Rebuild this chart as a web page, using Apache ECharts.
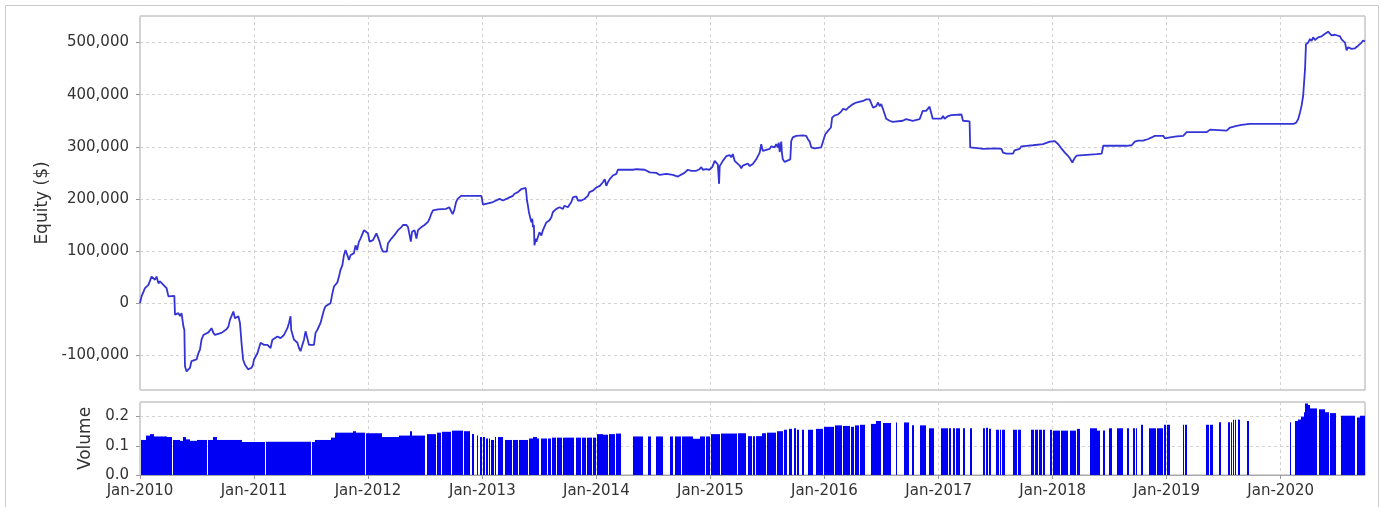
<!DOCTYPE html>
<html><head><meta charset="utf-8">
<script src="https://cdn.jsdelivr.net/npm/echarts@6/dist/echarts.min.js"></script>
<style>html,body{margin:0;padding:0;background:#fff}#chart{width:1382px;height:507px}</style>
</head><body><div id="chart"></div>
<script>
// Equity curve: [date, equity $]
const equity = [
['2010-01-01',0],['2010-01-06',13000],['2010-01-17',29000],['2010-01-28',35000],['2010-02-07',51000],['2010-02-13',54000],
['2010-02-18',45000],['2010-02-23',51000],['2010-03-01',38000],['2010-03-06',42000],['2010-03-17',35000],['2010-03-22',38000],
['2010-03-27',29000],['2010-04-02',13000],['2010-04-21',14000],['2010-04-23',-22000],['2010-05-04',-19000],['2010-05-09',-25000],
['2010-05-14',-19000],['2010-05-20',-45000],['2010-05-23',-51000],['2010-05-25',-121000],['2010-05-30',-131000],['2010-06-05',-128000],
['2010-06-10',-124000],['2010-06-15',-111000],['2010-06-21',-114000],['2010-07-01',-108000],['2010-07-07',-96000],['2010-07-12',-89000],
['2010-07-17',-70000],['2010-07-23',-61000],['2010-08-08',-56000],['2010-08-18',-48000],['2010-08-24',-57000],['2010-08-29',-61000],
['2010-09-19',-57000],['2010-10-05',-50000],['2010-10-11',-45000],['2010-10-16',-32000],['2010-10-21',-25000],['2010-10-27',-16000],
['2010-11-01',-29000],['2010-11-06',-32000],['2010-11-12',-25000],['2010-11-17',-38000],['2010-11-20',-35000],['2010-11-22',-76000],
['2010-11-27',-108000],['2010-12-03',-118000],['2010-12-13',-127000],['2010-12-24',-124000],['2010-12-29',-118000],['2011-01-01',-108000],
['2011-01-12',-96000],['2011-01-22',-76000],['2011-02-02',-80000],['2011-02-13',-80000],['2011-02-23',-86000],['2011-03-01',-70000],
['2011-03-06',-67000],['2011-03-17',-64000],['2011-03-27',-67000],['2011-04-07',-61000],['2011-04-18',-48000],['2011-04-23',-38000],
['2011-04-28',-25000],['2011-04-30',-51000],['2011-05-09',-70000],['2011-05-20',-76000],['2011-05-25',-86000],['2011-05-30',-92000],
['2011-06-05',-80000],['2011-06-10',-70000],['2011-06-15',-54000],['2011-06-21',-51000],['2011-06-26',-80000],['2011-07-12',-80000],
['2011-07-17',-57000],['2011-07-23',-51000],['2011-08-02',-38000],['2011-08-13',-13000],['2011-08-18',-6000],['2011-09-03',0],
['2011-09-08',16000],['2011-09-14',32000],['2011-09-19',35000],['2011-09-25',40000],['2011-09-30',51000],['2011-10-05',64000],
['2011-10-11',73000],['2011-10-16',92000],['2011-10-21',102000],['2011-10-27',105000],['2011-11-01',83000],['2011-11-06',92000],
['2011-11-12',89000],['2011-11-17',96000],['2011-11-22',111000],['2011-11-27',102000],['2011-12-03',118000],['2011-12-08',124000],
['2011-12-19',140000],['2011-12-24',143000],['2012-01-01',134000],['2012-01-06',118000],['2012-01-12',115000],['2012-01-17',121000],
['2012-01-22',127000],['2012-01-28',134000],['2012-02-02',131000],['2012-02-07',118000],['2012-02-13',105000],['2012-02-18',99000],
['2012-02-23',102000],['2012-03-01',99000],['2012-03-05',115000],['2012-03-10',118000],['2012-03-16',124000],['2012-03-26',131000],
['2012-04-06',140000],['2012-04-17',146000],['2012-04-22',150000],['2012-05-03',150000],['2012-05-08',146000],['2012-05-13',131000],
['2012-05-17',118000],['2012-05-21',137000],['2012-05-29',140000],['2012-06-04',124000],['2012-06-09',140000],['2012-06-20',146000],
['2012-06-30',150000],['2012-07-06',150000],['2012-07-11',156000],['2012-07-16',162000],['2012-07-22',172000],['2012-07-27',178000],
['2012-08-12',180000],['2012-09-07',181000],['2012-09-17',184000],['2012-09-23',187000],['2012-09-28',171000],['2012-10-03',178000],
['2012-10-09',194000],['2012-10-14',200000],['2012-10-25',206000],['2012-12-29',206000],['2013-01-03',189000],['2013-01-08',187000],
['2013-02-04',194000],['2013-02-25',200000],['2013-03-08',197000],['2013-03-19',200000],['2013-03-29',203000],['2013-04-09',206000],
['2013-04-14',210000],['2013-04-25',213000],['2013-05-06',219000],['2013-05-20',221000],['2013-05-22',210000],['2013-05-24',197000],
['2013-05-27',187000],['2013-05-30',175000],['2013-06-04',178000],['2013-06-07',155000],['2013-06-10',162000],['2013-06-12',146000],
['2013-06-15',150000],['2013-06-17',111000],['2013-06-21',124000],['2013-06-23',118000],['2013-06-28',127000],['2013-07-03',136000],
['2013-07-09',130000],['2013-07-14',140000],['2013-07-19',143000],['2013-07-25',155000],['2013-08-04',159000],['2013-08-10',165000],
['2013-08-15',175000],['2013-08-20',178000],['2013-08-26',181000],['2013-09-05',184000],['2013-09-16',181000],['2013-09-21',187000],
['2013-10-02',184000],['2013-10-07',189000],['2013-10-13',194000],['2013-10-18',203000],['2013-10-29',205000],['2013-11-03',197000],
['2013-11-14',197000],['2013-11-24',200000],['2013-12-05',206000],['2013-12-10',213000],['2013-12-21',216000],['2014-01-01',222000],
['2014-01-12',225000],['2014-01-22',232000],['2014-01-28',238000],['2014-02-02',225000],['2014-02-07',232000],['2014-02-13',238000],
['2014-02-23',245000],['2014-03-06',248000],['2014-03-11',256000],['2014-04-28',256000],['2014-05-09',257000],['2014-06-05',256000],
['2014-06-21',251000],['2014-07-12',250000],['2014-07-23',246000],['2014-08-13',248000],['2014-09-03',246000],['2014-09-19',243000],
['2014-09-24',245000],['2014-10-10',250000],['2014-10-21',256000],['2014-11-01',254000],['2014-11-17',254000],['2014-11-27',257000],
['2014-12-03',261000],['2014-12-08',256000],['2014-12-19',257000],['2014-12-29',256000],['2015-01-07',261000],['2015-01-15',273000],
['2015-01-20',276000],['2015-01-25',266000],['2015-01-29',229000],['2015-01-31',263000],['2015-02-05',265000],['2015-02-10',273000],
['2015-02-16',276000],['2015-02-21',282000],['2015-03-04',284000],['2015-03-09',280000],['2015-03-14',286000],['2015-03-20',273000],
['2015-04-05',264000],['2015-04-10',259000],['2015-04-15',264000],['2015-04-21',261000],['2015-05-01',268000],['2015-05-07',263000],
['2015-05-17',267000],['2015-05-28',276000],['2015-06-08',289000],['2015-06-13',305000],['2015-06-18',292000],['2015-07-10',296000],
['2015-07-15',301000],['2015-07-26',299000],['2015-07-31',305000],['2015-08-05',299000],['2015-08-08',308000],['2015-08-11',290000],
['2015-08-16',310000],['2015-08-18',290000],['2015-08-21',276000],['2015-08-27',271000],['2015-09-14',276000],['2015-09-17',311000],
['2015-09-22',318000],['2015-10-03',321000],['2015-10-24',322000],['2015-11-04',321000],['2015-11-09',315000],['2015-11-15',310000],
['2015-11-20',299000],['2015-12-01',297000],['2015-12-22',299000],['2015-12-28',301000],['2016-01-04',324000],['2016-01-12',330000],
['2016-01-17',327000],['2016-01-22',337000],['2016-01-26',356000],['2016-02-02',360000],['2016-02-13',362000],['2016-02-23',367000],
['2016-03-01',373000],['2016-03-11',371000],['2016-03-17',375000],['2016-03-22',378000],['2016-04-02',382000],['2016-04-12',385000],
['2016-05-04',388000],['2016-05-14',391000],['2016-05-25',391000],['2016-05-30',394000],['2016-06-05',375000],['2016-06-15',378000],
['2016-06-21',385000],['2016-06-26',378000],['2016-07-01',382000],['2016-07-07',372000],['2016-07-12',363000],['2016-07-17',354000],
['2016-07-28',350000],['2016-08-07',348000],['2016-09-08',350000],['2016-09-19',353000],['2016-10-10',350000],['2016-11-01',353000],
['2016-11-11',369000],['2016-11-22',369000],['2016-11-27',372000],['2016-12-03',377000],['2016-12-08',375000],['2016-12-13',354000],
['2017-01-10',354000],['2017-01-15',359000],['2017-01-20',354000],['2017-01-31',359000],['2017-02-11',361000],['2017-03-15',362000],
['2017-03-20',350000],['2017-04-10',349000],['2017-04-12',299000],['2017-05-12',297000],['2017-05-23',296000],['2017-07-05',297000],
['2017-07-21',296000],['2017-07-26',289000],['2017-08-06',287000],['2017-08-27',287000],['2017-09-01',293000],['2017-09-17',296000],
['2017-09-23',301000],['2017-10-09',302000],['2017-10-30',303000],['2017-12-01',305000],['2017-12-23',310000],['2018-01-08',311000],
['2018-01-19',305000],['2018-01-24',301000],['2018-01-30',296000],['2018-02-04',299000],['2018-02-09',289000],['2018-02-20',282000],
['2018-02-25',278000],['2018-03-05',270000],['2018-03-08',273000],['2018-03-13',279000],['2018-03-19',283000],['2018-04-09',284000],
['2018-05-22',286000],['2018-06-07',287000],['2018-06-12',302000],['2018-08-26',302000],['2018-09-11',303000],['2018-09-21',310000],
['2018-10-02',312000],['2018-10-18',312000],['2018-11-03',315000],['2018-11-14',318000],['2018-11-24',321000],['2018-12-21',321000],
['2018-12-27',316000],['2019-01-01',315000],['2019-01-12',318000],['2019-02-02',320000],['2019-02-23',321000],['2019-03-06',328000],
['2019-05-09',328000],['2019-05-20',333000],['2019-07-12',331000],['2019-07-23',337000],['2019-08-13',340000],['2019-08-29',342000],
['2019-09-24',344000],['2020-02-10',344000],['2020-02-19',346000],['2020-02-26',353000],['2020-03-03',366000],['2020-03-08',379000],
['2020-03-13',398000],['2020-03-19',449000],['2020-03-22',497000],['2020-03-29',500000],['2020-04-04',507000],['2020-04-09',503000],
['2020-04-14',510000],['2020-04-20',505000],['2020-04-25',508000],['2020-04-30',510000],['2020-05-06',507000],['2020-05-11',512000],
['2020-05-22',517000],['2020-05-27',520000],['2020-06-01',521000],['2020-06-07',518000],['2020-06-12',514000],['2020-06-23',515000],
['2020-06-28',512000],['2020-07-09',512000],['2020-07-14',506000],['2020-07-19',506000],['2020-07-25',500000],['2020-07-30',485000],
['2020-08-04',491000],['2020-08-10',494000],['2020-08-15',488000],['2020-08-26',489000],['2020-09-05',494000],['2020-09-11',497000],
['2020-09-16',500000],['2020-09-21',504000],['2020-09-27',502000]
];

// Volume held: [from, to, volume]
const volumeSegments = [
['2010-01-04','2010-01-20',0.12],['2010-01-20','2010-02-02',0.135],['2010-02-02','2010-02-15',0.14],['2010-02-15','2010-03-28',0.132],
['2010-03-28','2010-04-12',0.13],['2010-04-16','2010-05-09',0.12],['2010-05-09','2010-05-19',0.117],['2010-05-19','2010-05-28',0.13],
['2010-05-28','2010-06-10',0.122],['2010-06-10','2010-07-02',0.117],['2010-07-02','2010-08-03',0.12],['2010-08-08','2010-08-23',0.12],
['2010-08-23','2010-09-04',0.13],['2010-09-04','2010-11-23',0.12],['2010-11-23','2011-02-04',0.113],['2011-02-07','2011-07-02',0.114],
['2011-07-07','2011-07-15',0.113],['2011-07-15','2011-09-04',0.12],['2011-09-04','2011-09-17',0.128],['2011-09-17','2011-11-14',0.145],
['2011-11-14','2011-11-23',0.15],['2011-11-23','2011-12-21',0.145],['2011-12-25','2012-02-14',0.143],['2012-02-14','2012-04-08',0.13],
['2012-04-08','2012-05-16',0.135],['2012-05-16','2012-05-22',0.15],['2012-05-22','2012-07-03',0.135],['2012-07-07','2012-08-06',0.14],
['2012-08-08','2012-08-22',0.145],['2012-08-24','2012-09-23',0.148],['2012-09-25','2012-10-31',0.152],['2012-11-02','2012-11-22',0.15],
['2012-11-29','2012-12-05',0.14],['2012-12-14','2012-12-18',0.135],['2012-12-23','2012-12-31',0.13],['2013-01-02','2013-01-08',0.13],
['2013-01-13','2013-01-18',0.125],['2013-01-21','2013-01-24',0.125],['2013-01-29','2013-02-06',0.12],['2013-02-09','2013-02-13',0.13],
['2013-02-21','2013-03-08',0.13],['2013-03-13','2013-04-05',0.12],['2013-04-08','2013-04-24',0.12],['2013-04-27','2013-05-26',0.12],
['2013-05-29','2013-06-11',0.125],['2013-06-11','2013-06-24',0.13],['2013-06-24','2013-07-03',0.125],['2013-07-07','2013-07-26',0.125],
['2013-07-29','2013-08-08',0.125],['2013-08-11','2013-08-24',0.128],['2013-08-27','2013-09-12',0.128],['2013-09-15','2013-10-23',0.128],
['2013-10-27','2013-11-12',0.128],['2013-11-15','2013-11-28',0.128],['2013-12-01','2013-12-17',0.128],['2013-12-20','2013-12-30',0.128],
['2014-01-02','2014-01-21',0.14],['2014-01-23','2014-02-06',0.138],['2014-02-09','2014-03-01',0.14],['2014-03-04','2014-03-22',0.142],
['2014-04-28','2014-05-13',0.132],['2014-05-16','2014-05-30',0.132],['2014-06-15','2014-06-26',0.132],['2014-07-12','2014-08-02',0.132],
['2014-08-24','2014-09-03',0.132],['2014-09-09','2014-09-28',0.132],['2014-10-01','2014-11-06',0.132],['2014-11-08','2014-11-28',0.124],
['2014-11-29','2014-12-14',0.132],['2014-12-17','2014-12-30',0.132],['2015-01-04','2015-01-31',0.14],['2015-02-03','2015-03-26',0.142],
['2015-03-29','2015-04-26',0.143],['2015-04-30','2015-05-13',0.133],['2015-05-16','2015-05-23',0.133],['2015-05-26','2015-06-14',0.133],
['2015-06-17','2015-06-29',0.143],['2015-07-02','2015-07-16',0.145],['2015-07-19','2015-07-29',0.145],['2015-08-01','2015-08-21',0.15],
['2015-08-24','2015-09-05',0.155],['2015-09-09','2015-09-21',0.158],['2015-09-25','2015-10-03',0.16],['2015-10-07','2015-10-11',0.155],
['2015-10-23','2015-10-27',0.155],['2015-11-09','2015-11-25',0.155],['2015-12-06','2015-12-27',0.158],['2016-01-01','2016-02-02',0.165],
['2016-02-05','2016-02-28',0.17],['2016-03-02','2016-03-24',0.168],['2016-03-27','2016-04-06',0.165],['2016-04-09','2016-04-22',0.17],
['2016-04-25','2016-05-09',0.172],['2016-05-30','2016-06-13',0.175],['2016-06-16','2016-07-02',0.185],['2016-07-06','2016-08-02',0.178],
['2016-08-16','2016-08-21',0.18],['2016-09-13','2016-09-29',0.18],['2016-10-09','2016-10-13',0.17],['2016-11-01','2016-11-21',0.17],
['2016-12-02','2016-12-18',0.16],['2017-01-10','2017-01-30',0.16],['2017-02-02','2017-02-11',0.16],['2017-02-16','2017-02-21',0.16],
['2017-02-24','2017-03-09',0.16],['2017-03-20','2017-03-25',0.16],['2017-04-10','2017-04-18',0.16],['2017-05-23','2017-05-28',0.16],
['2017-05-31','2017-06-07',0.162],['2017-06-10','2017-06-19',0.158],['2017-07-05','2017-07-12',0.155],['2017-07-15','2017-07-20',0.155],
['2017-07-23','2017-07-31',0.155],['2017-08-27','2017-09-08',0.155],['2017-09-11','2017-09-23',0.155],['2017-10-25','2017-11-01',0.155],
['2017-11-04','2017-11-14',0.155],['2017-11-19','2017-11-27',0.155],['2017-11-30','2017-12-06',0.155],['2017-12-22','2017-12-29',0.155],
['2018-01-03','2018-01-24',0.152],['2018-01-28','2018-02-20',0.152],['2018-02-25','2018-03-17',0.152],['2018-03-20','2018-03-29',0.158],
['2018-04-30','2018-05-22',0.16],['2018-05-22','2018-06-01',0.152],['2018-06-12','2018-06-17',0.152],['2018-07-01','2018-07-09',0.16],
['2018-07-27','2018-08-15',0.16],['2018-08-28','2018-09-03',0.16],['2018-09-16','2018-09-23',0.16],['2018-09-26','2018-09-29',0.16],
['2018-10-10','2018-10-18',0.172],['2018-11-06','2018-11-28',0.16],['2018-11-30','2018-12-19',0.16],['2018-12-23','2018-12-30',0.172],
['2019-01-02','2019-01-12',0.172],['2019-02-21','2019-02-27',0.172],['2019-03-02','2019-03-08',0.172],['2019-05-07','2019-05-15',0.172],
['2019-05-20','2019-05-28',0.172],['2019-06-18','2019-06-23',0.181],['2019-07-17','2019-07-23',0.181],['2019-07-26','2019-07-28',0.181],
['2019-07-31','2019-08-06',0.189],['2019-08-09','2019-08-12',0.189],['2019-08-16','2019-08-18',0.19],['2019-08-22','2019-08-25',0.189],
['2019-09-16','2019-09-22',0.185],['2020-01-31','2020-02-03',0.181],['2020-02-17','2020-02-25',0.185],['2020-02-25','2020-03-06',0.19],
['2020-03-06','2020-03-16',0.2],['2020-03-16','2020-03-20',0.215],['2020-03-20','2020-03-28',0.245],['2020-03-28','2020-04-04',0.24],
['2020-04-04','2020-04-26',0.228],['2020-05-02','2020-05-22',0.225],['2020-05-22','2020-06-03',0.215],['2020-06-08','2020-06-26',0.212],
['2020-07-13','2020-08-27',0.203],['2020-09-01','2020-09-11',0.197],['2020-09-11','2020-09-27',0.203]
];

const xRange = ['2010-01-01', '2020-09-27'];
const equityRange = [-166600, 551000];
const volumeRange = [0, 0.25];
const monthNames = ['Jan','Feb','Mar','Apr','May','Jun','Jul','Aug','Sep','Oct','Nov','Dec'];

const toTime = s => +echarts.time.parse(s);
const volumeData = volumeSegments.map(([s, e, v]) => [toTime(s), toTime(e), v]);

const FONT = 'DejaVu Sans';
const BLUE_BAR = '#0000f5';
const gridLine = {show: true, lineStyle: {color: '#d2d2d2', type: [3, 3], width: 1}};
const tick = {show: true, length: 4, lineStyle: {color: '#999'}};
const labelStyle = {color: '#333', fontSize: 15, fontFamily: FONT};

const chart = echarts.init(document.getElementById('chart'), null, {renderer: 'canvas'});
chart.setOption({
  animation: false,
  backgroundColor: '#fff',
  textStyle: {fontFamily: FONT},
  graphic: [{
    type: 'rect', silent: true, z: -10,
    shape: {x: 5.5, y: 5.5, width: 1373, height: 510},
    style: {fill: 'none', stroke: '#cccccc', lineWidth: 1}
  }],
  grid: [
    {left: 140, top: 16, width: 1225, height: 374, show: true, borderColor: '#a8a8a8', borderWidth: 1, backgroundColor: '#fff'},
    {left: 140, top: 402, width: 1225, height: 73, show: true, borderColor: '#a8a8a8', borderWidth: 1, backgroundColor: '#fff'}
  ],
  xAxis: [
    {type: 'time', gridIndex: 0, min: xRange[0], max: xRange[1],
     minInterval: 365 * 864e5, maxInterval: 366 * 864e5,
     axisLine: {show: false}, axisTick: {show: false}, axisLabel: {show: false},
     splitLine: gridLine, minorTick: {show: false}},
    {type: 'time', gridIndex: 1, min: xRange[0], max: xRange[1],
     minInterval: 365 * 864e5, maxInterval: 366 * 864e5,
     axisLine: {show: true, lineStyle: {color: '#a8a8a8'}}, axisTick: tick,
     axisLabel: Object.assign({margin: 9, showMaxLabel: false, hideOverlap: false,
       formatter: v => { const d = new Date(v); return monthNames[d.getMonth()] + '-' + d.getFullYear(); }}, labelStyle),
     splitLine: gridLine, minorTick: {show: false}}
  ],
  yAxis: [
    {type: 'value', gridIndex: 0, min: equityRange[0], max: equityRange[1],
     minInterval: 100000, maxInterval: 100000, splitNumber: 7,
     name: 'Equity ($)', nameLocation: 'middle', nameGap: 89,
     nameTextStyle: {fontSize: 17, color: '#333', fontFamily: FONT},
     axisLine: {show: false}, axisTick: tick,
     axisLabel: Object.assign({margin: 11, showMinLabel: false, showMaxLabel: false,
       formatter: v => v.toLocaleString('en-US')}, labelStyle),
     splitLine: gridLine},
    {type: 'value', gridIndex: 1, min: volumeRange[0], max: volumeRange[1], interval: 0.1,
     name: 'Volume', nameLocation: 'middle', nameGap: 45,
     nameTextStyle: {fontSize: 17, color: '#333', fontFamily: FONT},
     axisLine: {show: false}, axisTick: tick,
     axisLabel: Object.assign({margin: 11, showMaxLabel: false,
       formatter: v => v.toFixed(1)}, labelStyle),
     splitLine: gridLine}
  ],
  series: [
    {type: 'line', name: 'Equity', xAxisIndex: 0, yAxisIndex: 0, data: equity,
     showSymbol: false, symbol: 'none', lineStyle: {color: '#3434d6', width: 1.8}, z: 3},
    {type: 'custom', name: 'Volume', xAxisIndex: 1, yAxisIndex: 1, data: volumeData,
     encode: {x: [0, 1], y: 2}, z: 3,
     renderItem: (params, api) => {
       const top = api.coord([api.value(0), api.value(2)]);
       const bottom = api.coord([api.value(1), 0]);
       const x0 = Math.round(top[0]);
       const x1 = Math.max(Math.round(bottom[0]), x0 + 1);
       return {type: 'rect', shape: {x: x0, y: top[1], width: x1 - x0, height: bottom[1] - top[1]},
               style: {fill: BLUE_BAR}};
     }}
  ]
});
</script>
</body></html>
